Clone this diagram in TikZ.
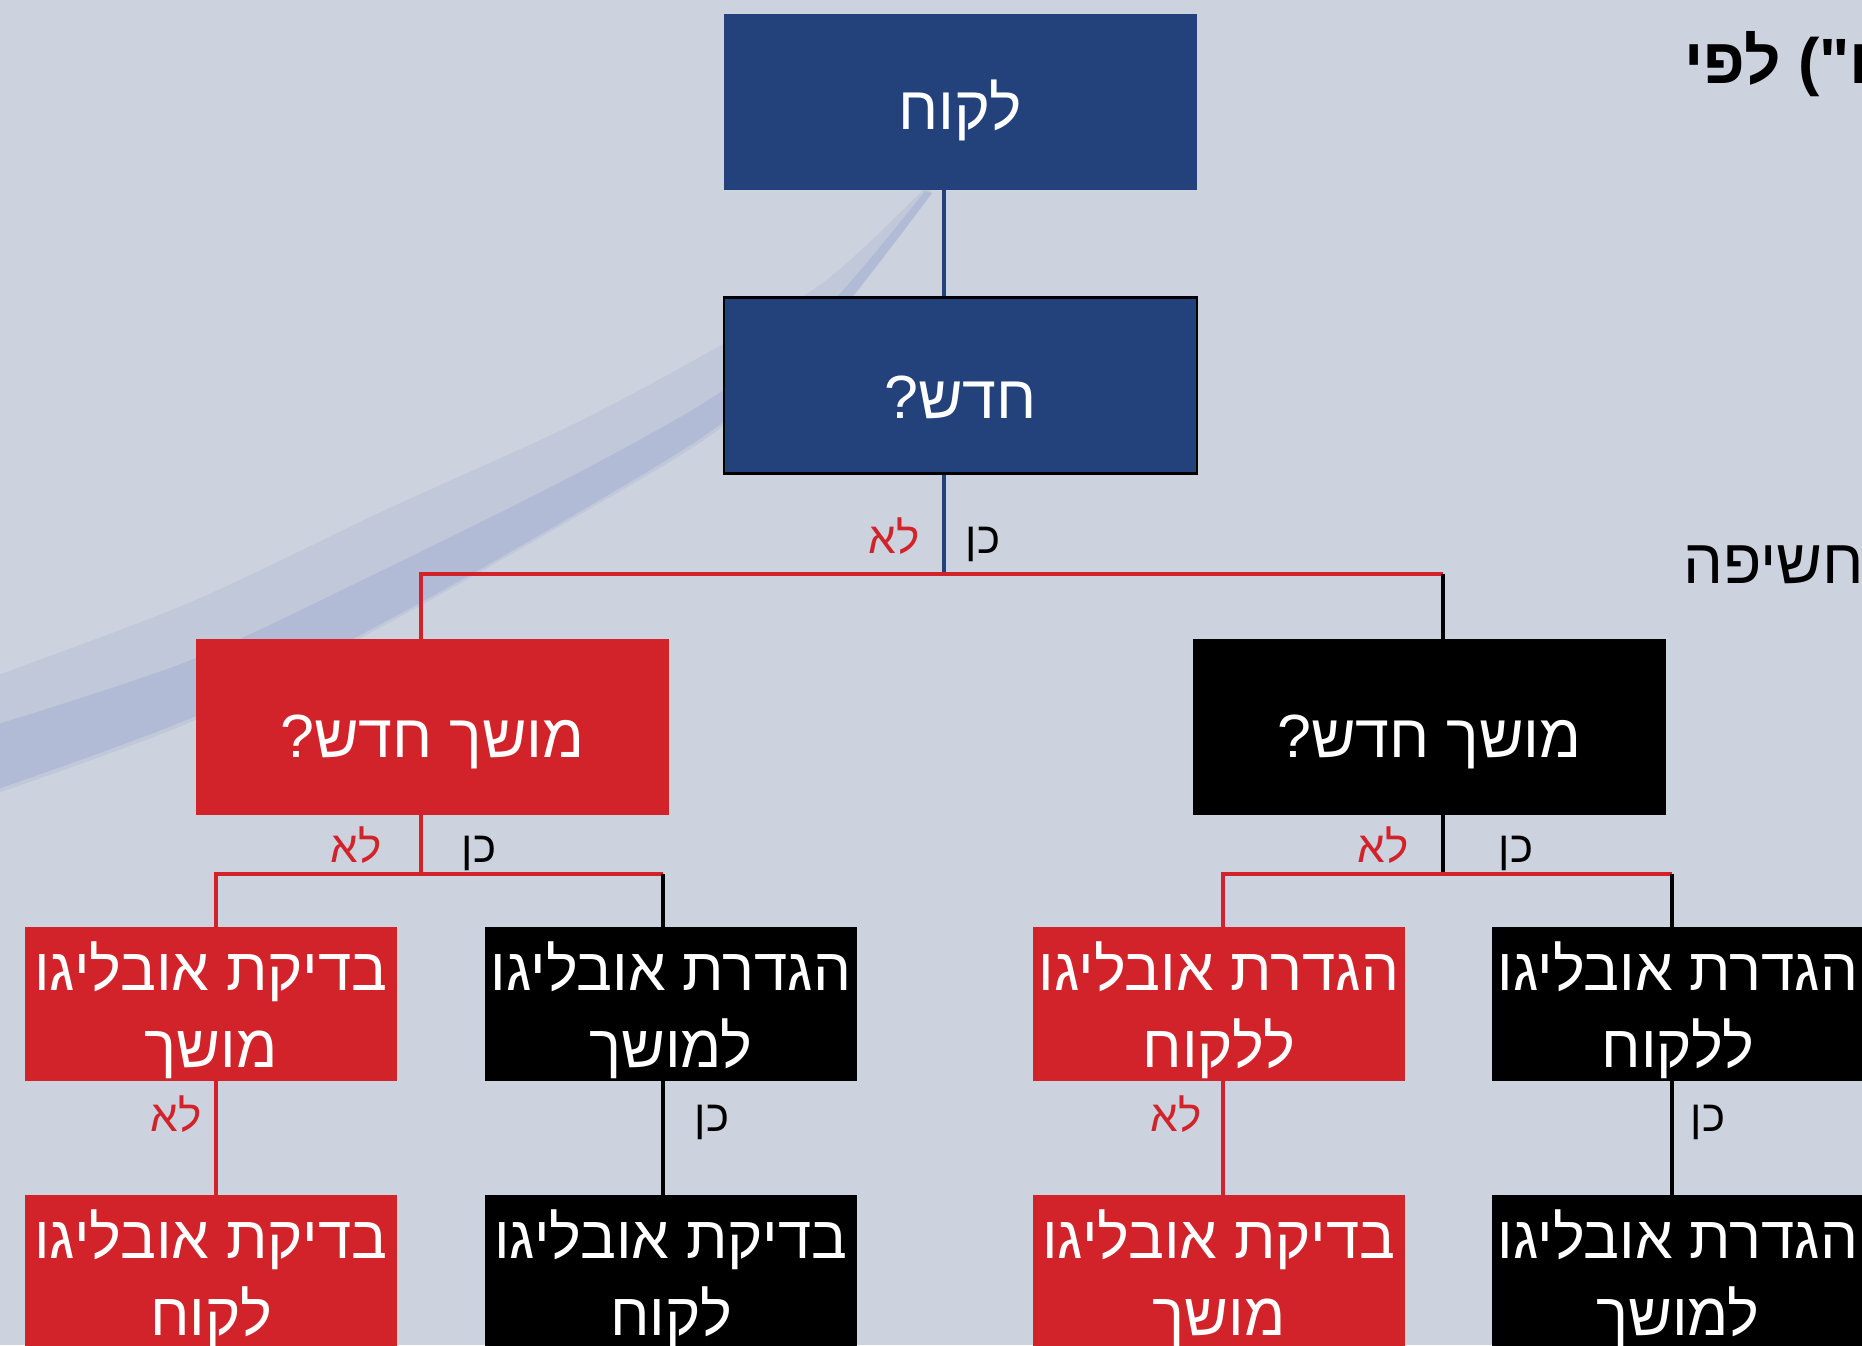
\documentclass[tikz,border=0pt]{standalone}
\usepackage{fontspec}
\setmainfont{Liberation Sans}
\newfontfamily\heb[Script=Hebrew]{Liberation Sans}
\newfontfamily\latn{Liberation Sans}
\TeXXeTstate=1
\definecolor{bgc}{RGB}{205,211,222}
\definecolor{navy}{RGB}{35,65,122}
\definecolor{redc}{RGB}{210,35,42}
\definecolor{swc}{RGB}{165,176,212}
\newcommand\twol[2]{\rule{0pt}{49pt}\smash{\beginR #1\endR}\\\smash{#2}}
\tikzset{
  box/.style={rectangle, inner sep=0pt, text=white, align=center,
    minimum width=372pt, minimum height=154pt,
    font=\heb\fontsize{60}{77}\selectfont},
  bigbox/.style={rectangle, inner sep=0pt, text=white,
    minimum width=473pt, minimum height=176pt,
    font=\heb\fontsize{61}{77}\selectfont},
  redbox/.style={box, fill=redc},
  blackbox/.style={box, fill=black},
  bluel/.style={draw=navy, line width=4.5pt},
  redl/.style={draw=redc, line width=4.5pt, line join=miter},
  blackl/.style={draw=black, line width=4.5pt},
  yes/.style={anchor=base, text=black, font=\heb\fontsize{44}{46}\selectfont},
  no/.style={anchor=base, text=redc, font=\heb\fontsize{44}{46}\selectfont},
}
\begin{document}
\begin{tikzpicture}[x=1pt,y=-1pt]
\useasboundingbox (0,0) rectangle (1862,1345);
\clip (0,0) rectangle (1862,1345);
\fill[bgc] (0,0) rectangle (1862,1345);
% swoosh
\fill[swc, opacity=0.3] plot[smooth] coordinates {(-5,676) (191,602) (383,511) (574,424) (721,345) (829,278) (925,188)}
  -- plot[smooth] coordinates {(932,193) (829,326) (721,428) (574,518) (383,626) (191,722) (-5,794)} -- cycle;
\fill[swc, opacity=0.5] plot[smooth] coordinates {(-5,725) (191,660) (383,570) (574,475) (721,392) (829,305) (925,191)}
  -- plot[smooth] coordinates {(932,193) (829,324) (721,424) (574,515) (383,623) (191,718) (-5,790)} -- cycle;

% nodes
\node[bigbox, fill=navy, text height=55pt, text depth=0pt] (top) at (960,101.5) {לקוח};
\node[bigbox, fill=navy, draw=black, line width=2.5pt, text height=65pt, text depth=0pt] (new) at (960.5,385.5) {\beginR חדש\kern0pt?\endR};
\node[bigbox, fill=redc, text height=60pt, text depth=0pt] (lnew) at (432.5,727) {\beginR מושך חדש\kern0pt?\endR};
\node[bigbox, fill=black, text height=60pt, text depth=0pt] (rnew) at (1429.5,727) {\beginR מושך חדש\kern0pt?\endR};

\node[redbox] (b1) at (211,1004) {\twol{בדיקת אובליגו}{מושך}};
\node[blackbox] (b2) at (671,1004) {\twol{הגדרת אובליגו}{למושך}};
\node[redbox] (b3) at (1219,1004) {\twol{הגדרת אובליגו}{ללקוח}};
\node[blackbox] (b4) at (1678,1004) {\twol{הגדרת אובליגו}{ללקוח}};

\node[redbox] (c1) at (211,1272) {\twol{בדיקת אובליגו}{לקוח}};
\node[blackbox] (c2) at (671,1272) {\twol{בדיקת אובליגו}{לקוח}};
\node[redbox] (c3) at (1219,1272) {\twol{בדיקת אובליגו}{מושך}};
\node[blackbox] (c4) at (1678,1272) {\twol{הגדרת אובליגו}{למושך}};

% junctions
\coordinate (j0) at (944,574);
\coordinate (jl) at (421,574);
\coordinate (jr) at (1443,574);
\coordinate (k1) at (421,874);
\coordinate (k1l) at (216,874);
\coordinate (k1r) at (663,874);
\coordinate (k2) at (1443,874);
\coordinate (k2l) at (1223,874);
\coordinate (k2r) at (1672,874);

% connectors
\draw[bluel] (top.south -| j0) -- (new.north -| j0);
\draw[bluel] (new.south -| j0) -- (j0);
\draw[redl] (jl |- lnew.north) -- (jl) -- (jr);
\draw[blackl] (jr) -- (jr |- rnew.north);

\draw[redl] (lnew.south -| k1) -- (k1);
\draw[redl] (k1l |- b1.north) -- (k1l) -- (k1r);
\draw[blackl] (k1r) -- (k1r |- b2.north);
\draw[blackl] (rnew.south -| k2) -- (k2);
\draw[redl] (k2l |- b3.north) -- (k2l) -- (k2r);
\draw[blackl] (k2r) -- (k2r |- b4.north);

\draw[redl] (b1.south -| k1l) -- (c1.north -| k1l);
\draw[blackl] (b2.south -| k1r) -- (c2.north -| k1r);
\draw[redl] (b3.south -| k2l) -- (c3.north -| k2l);
\draw[blackl] (b4.south -| k2r) -- (c4.north -| k2r);

% labels
\node[no] (n0) at (894,553) {לא};
\node[yes] (y0) at (983,553) {כן};
\node[no] (n1) at (356,862) {לא};
\node[yes] (y1) at (479,862) {כן};
\node[no] (n2) at (1383,862) {לא};
\node[yes] (y2) at (1516,862) {כן};
\node[no] (n3) at (176,1131) {לא};
\node[yes] (y3) at (712,1131) {כן};
\node[no] (n4) at (1176,1131) {לא};
\node[yes] (y4) at (1708,1131) {כן};

% clipped slide text at right
\node[anchor=base west, inner sep=0pt, font=\heb\bfseries\fontsize{64}{66}\selectfont] (t1) at (1684,83) {\beginR אובליגו\kern0pt{\latn\bfseries("}\ לפי\endR};
\node[anchor=base west, inner sep=0pt, font=\heb\fontsize{63}{65}\selectfont] (t2) at (1683,583) {\beginR חשיפה\endR};
\end{tikzpicture}
\end{document}
